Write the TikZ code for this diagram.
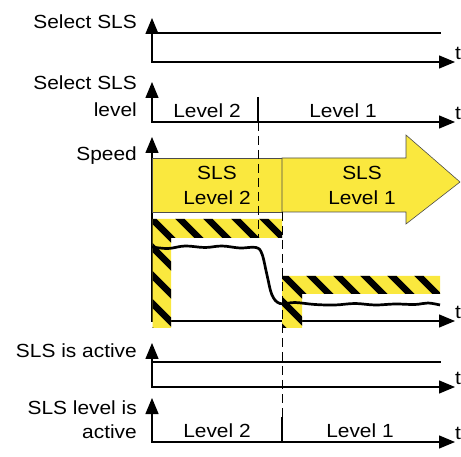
\documentclass[tikz,border=0pt]{standalone}
\usepackage{fontspec}
\setmainfont{Liberation Sans}[FakeStretch=1.1]
\usetikzlibrary{arrows.meta,positioning}
\definecolor{slsyellow}{RGB}{250,232,62}

\begin{document}
\begin{tikzpicture}[x=1pt,y=-1pt,>={Triangle[length=16pt,width=13pt]},
  font=\fontsize{19}{22}\selectfont,
  axis/.style={<->,line width=1.3pt},
  sig/.style={line width=2.7pt},
  lbl/.style={anchor=base east,inner sep=0pt},
  lvl/.style={anchor=base,inner sep=0pt},
  tlbl/.style={anchor=west,inner sep=0pt},
  box/.style={fill=slsyellow,draw=black!70,line width=0.6pt},
  stripe/.style={line width=6.5pt},
  guide/.style={line width=0.6pt,dash pattern=on 9pt off 5pt}]
\useasboundingbox (0,0) rectangle (461,457);

% axes of the five diagrams
\foreach \ya/\yt/\n in {62/18/1,122/82/2,321/137/3,387/343/4,442/398/5}{
  \coordinate (top\n) at (152,\yt);
  \coordinate (end\n) at (455,\ya);
  \draw[axis] (top\n) |- (end\n);
  \node[tlbl] (t\n) at ([yshift=9pt]end\n) {t};
}

% labels
\node[lbl] (sel) at (137,28.5) {Select SLS};
\node[lbl] (sela) at (137,90) {Select SLS};
\node[lbl] (selb) at (137,117) {level};
\node[lbl] (spd) at (137,161) {Speed};
\node[lbl] (act) at (137,358) {SLS is active};
\node[lbl] (acta) at (137,414) {SLS level is};
\node[lbl] (actb) at (137,438) {active};

% select SLS
\coordinate (s1a) at (151,33);
\coordinate (s1b) at (441,33);
\draw[sig] (s1a) -- (s1b);

% select SLS level
\coordinate (k2a) at (258,97);
\coordinate (k2b) at (258,122);
\draw[sig] (k2a) -- (k2b);
\node[lvl] (lv2) at (207,118) {Level 2};
\node[lvl] (lv1) at (343,118) {Level 1};

% speed: yellow box and arrow
\draw[box] (152.6,158) rectangle (282,212);
\draw[box] (282,158) -- (406,158) -- (406,135) -- (460,182) -- (406,224) -- (406,212) -- (282,212) -- cycle;
\node[lvl] (b2a) at (217,179.5) {SLS};
\node[lvl] (b2b) at (217,205) {Level 2};
\node[lvl] (b1a) at (362,179.5) {SLS};
\node[lvl] (b1b) at (362,205) {Level 1};

% hatched limits
\begin{scope}
  \clip (152.7,219) -- (282,219) -- (282,238) -- (171,238) -- (171,328) -- (152.7,328) -- cycle;
  \fill[slsyellow] (150,215) rectangle (285,330);
  \foreach \k in {-5,...,5}
    \draw[stripe] (152+28*\k-20,199) -- ++(170,170);
\end{scope}
\begin{scope}
  \clip (282,276) -- (440,276) -- (440,294) -- (302,294) -- (302,328) -- (282,328) -- cycle;
  \fill[slsyellow] (280,270) rectangle (445,330);
  \foreach \k in {-3,...,6}
    \draw[stripe] (284+27*\k-20,256) -- ++(120,120);
\end{scope}

\draw[sig] plot[smooth,tension=0.6] coordinates {(152,247) (168,248.5) (185,246) (205,247.5) (222,246) (240,248) (256,247.5)
  (262,254) (267,275) (272,295) (280,303.5) (295,302.5) (315,304.5) (335,305) (355,303.5) (375,305) (395,304) (415,304.5) (428,303) (440,305)};

% SLS is active
\coordinate (s4a) at (151,362);
\coordinate (s4b) at (441,362);
\draw[sig] (s4a) -- (s4b);

% SLS level is active
\coordinate (k5a) at (282,417);
\coordinate (k5b) at (282,443);
\draw[sig] (k5a) -- (k5b);
\node[lvl] (lv2b) at (217,437) {Level 2};
\node[lvl] (lv1b) at (360,437) {Level 1};

% switching instants
\draw[guide] (k2b) -- (258,238);
\draw[guide] (282,212) -- (k5a);
\end{tikzpicture}
\end{document}
